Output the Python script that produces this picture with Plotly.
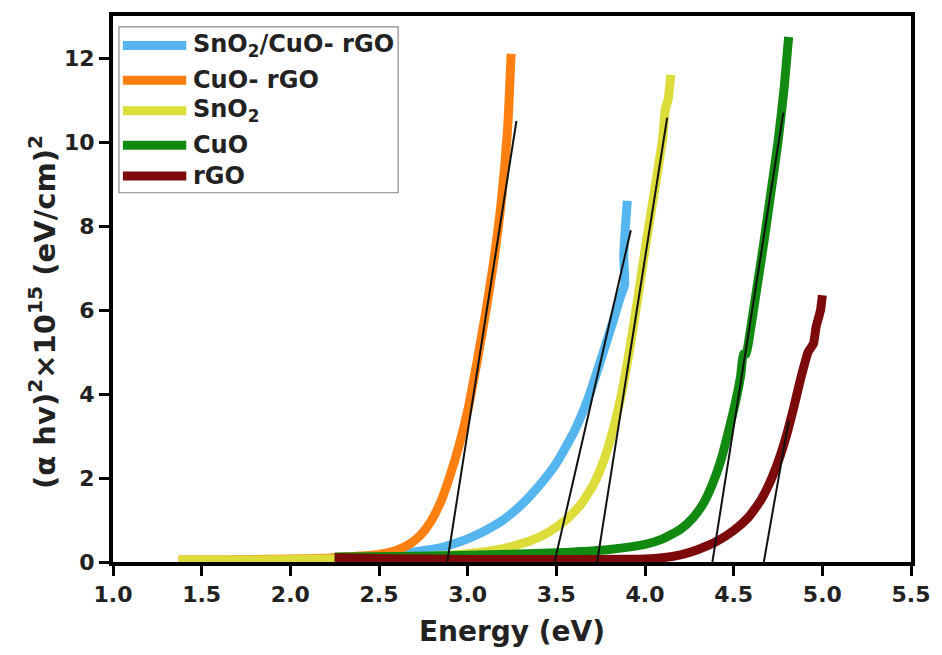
import plotly.graph_objects as go

# Tauc plot: (alpha*h*nu)^2 versus photon energy for each sample
series_names = ["SnO<sub>2</sub>/CuO- rGO", "CuO- rGO", "SnO<sub>2</sub>", "CuO", "rGO"]
series_colors = ["#55b5ef", "#ff8010", "#dcdc3a", "#128a12", "#7c0a0a"]

snocu_rgo_e = [2.25, 2.50, 2.70, 2.85, 3.00, 3.10, 3.20, 3.30, 3.40, 3.50, 3.60, 3.68,
               3.75, 3.81, 3.86, 3.885, 3.88, 3.89, 3.90]
snocu_rgo_v = [0.10, 0.15, 0.24, 0.34, 0.55, 0.75, 1.00, 1.35, 1.80, 2.35, 3.10, 3.90,
               4.80, 5.60, 6.30, 6.60, 7.30, 8.00, 8.60]

cuo_rgo_e = [1.37, 1.60, 1.80, 2.00, 2.20, 2.35, 2.50, 2.60, 2.67, 2.73, 2.79, 2.85,
             2.90, 2.95, 3.00, 3.05, 3.10, 3.145, 3.19, 3.225, 3.245]
cuo_rgo_v = [0.05, 0.05, 0.06, 0.07, 0.09, 0.13, 0.18, 0.28, 0.42, 0.62, 0.95, 1.45,
             2.05, 2.75, 3.60, 4.70, 5.90, 7.10, 8.60, 10.30, 12.10]

sno2_e = [1.37, 1.60, 1.80, 2.00, 2.20, 2.40, 2.60, 2.80, 3.00, 3.20, 3.35, 3.46, 3.56,
          3.64, 3.71, 3.77, 3.82, 3.87, 3.915, 3.96, 4.01, 4.06, 4.10, 4.115, 4.13, 4.145]
sno2_v = [0.05, 0.05, 0.05, 0.06, 0.07, 0.08, 0.10, 0.14, 0.20, 0.32, 0.50, 0.72, 1.02,
          1.38, 1.85, 2.45, 3.15, 4.05, 5.10, 6.30, 7.70, 9.00, 10.10, 10.80, 11.00, 11.60]

cuo_e = [2.25, 2.60, 3.00, 3.50, 3.80, 4.00, 4.10, 4.20, 4.27, 4.33, 4.38, 4.43, 4.47,
         4.51, 4.54, 4.555, 4.57, 4.59, 4.63, 4.67, 4.71, 4.75, 4.785, 4.81]
cuo_v = [0.12, 0.13, 0.16, 0.22, 0.30, 0.42, 0.55, 0.78, 1.05, 1.40, 1.85, 2.45, 3.10,
         3.80, 4.45, 4.95, 4.95, 5.40, 6.50, 7.60, 8.80, 10.00, 11.30, 12.50]

rgo_e = [2.25, 2.60, 3.00, 3.50, 4.00, 4.10, 4.20, 4.30, 4.40, 4.50, 4.58, 4.65, 4.71,
         4.76, 4.80, 4.84, 4.88, 4.92, 4.95, 4.965, 4.99, 5.00]
rgo_v = [0.10, 0.08, 0.06, 0.06, 0.07, 0.10, 0.17, 0.30, 0.48, 0.75, 1.05, 1.45, 1.95,
         2.50, 3.05, 3.70, 4.40, 5.00, 5.20, 5.60, 6.00, 6.35]

series_e = [snocu_rgo_e, cuo_rgo_e, sno2_e, cuo_e, rgo_e]
series_v = [snocu_rgo_v, cuo_rgo_v, sno2_v, cuo_v, rgo_v]

# Linear extrapolations of the absorption edges (start point on the axis, end point)
fit_e0 = [3.49, 2.885, 3.73, 4.38, 4.67]
fit_v0 = [0.0, 0.0, 0.0, 0.0, 0.0]
fit_e1 = [3.92, 3.275, 4.125, 4.78, 4.81]
fit_v1 = [7.90, 10.50, 10.58, 10.70, 3.36]

x_ticks = [1.0, 1.5, 2.0, 2.5, 3.0, 3.5, 4.0, 4.5, 5.0, 5.5]
y_ticks = [0, 2, 4, 6, 8, 10, 12]

FONT = "DejaVu Sans"
INK = "#222222"

fig = go.Figure()
for e, v, c, n in zip(series_e, series_v, series_colors, series_names):
    fig.add_trace(go.Scatter(x=e, y=v, mode="lines", name=n, showlegend=False,
                             line=dict(color=c, width=9, shape="spline", smoothing=0.5)))

for e0, v0, e1, v1 in zip(fit_e0, fit_v0, fit_e1, fit_v1):
    fig.add_trace(go.Scatter(x=[e0, e1], y=[v0, v1], mode="lines", showlegend=False,
                             line=dict(color="#111111", width=2)))

# Plot-area edges in pixels, used to place the legend block and the y title
L, R, T, B = 113, 919, 12, 565
W, H = R - L, B - T


def px(x):
    return (x - L) / W


def py(y):
    return (B - y) / H


# Hand-built legend box with long line samples
fig.add_shape(type="rect", xref="paper", yref="paper",
              x0=px(119), x1=px(401), y0=py(191), y1=py(23),
              line=dict(color="#8a8a8a", width=1.2), fillcolor="white", layer="above")
row_y = [42, 77, 108, 143, 174]
for ry, c, n in zip(row_y, series_colors, series_names):
    fig.add_shape(type="line", xref="paper", yref="paper",
                  x0=px(123), x1=px(187), y0=py(ry), y1=py(ry),
                  line=dict(color=c, width=9), layer="above")
    fig.add_annotation(xref="paper", yref="paper", x=px(192), y=py(ry),
                       xanchor="left", yanchor="middle", showarrow=False,
                       text="<b>" + n + "</b>",
                       font=dict(family=FONT, size=24, color=INK))

fig.add_annotation(xref="paper", yref="paper", x=px(42), y=py(312),
                   xanchor="center", yanchor="middle", showarrow=False, textangle=-90,
                   text="<b>(\u03b1 hv)<sup>2</sup>\u00d710<sup>15</sup> (eV/cm)<sup>2</sup></b>",
                   font=dict(family=FONT, size=29, color=INK))

axis_common = dict(showline=True, linecolor="black", linewidth=4, mirror=True,
                   ticks="outside", ticklen=10, tickwidth=3, tickcolor="black",
                   showgrid=False, zeroline=False,
                   tickfont=dict(family=FONT, size=22, color=INK))

fig.update_xaxes(range=[1.0, 5.5], tickvals=x_ticks,
                 ticktext=["<b>%.1f</b>" % t for t in x_ticks],
                 title=dict(text="<b>Energy (eV)</b>", standoff=16,
                            font=dict(family=FONT, size=28, color=INK)),
                 **axis_common)
fig.update_yaxes(range=[0, 13.0], tickvals=y_ticks,
                 ticktext=["<b>%d</b>" % t for t in y_ticks],
                 **axis_common)

fig.update_layout(width=942, height=655, autosize=False,
                  margin=dict(l=L, r=942 - R, t=T, b=655 - B),
                  paper_bgcolor="white", plot_bgcolor="white")

fig.write_html("out.html")
